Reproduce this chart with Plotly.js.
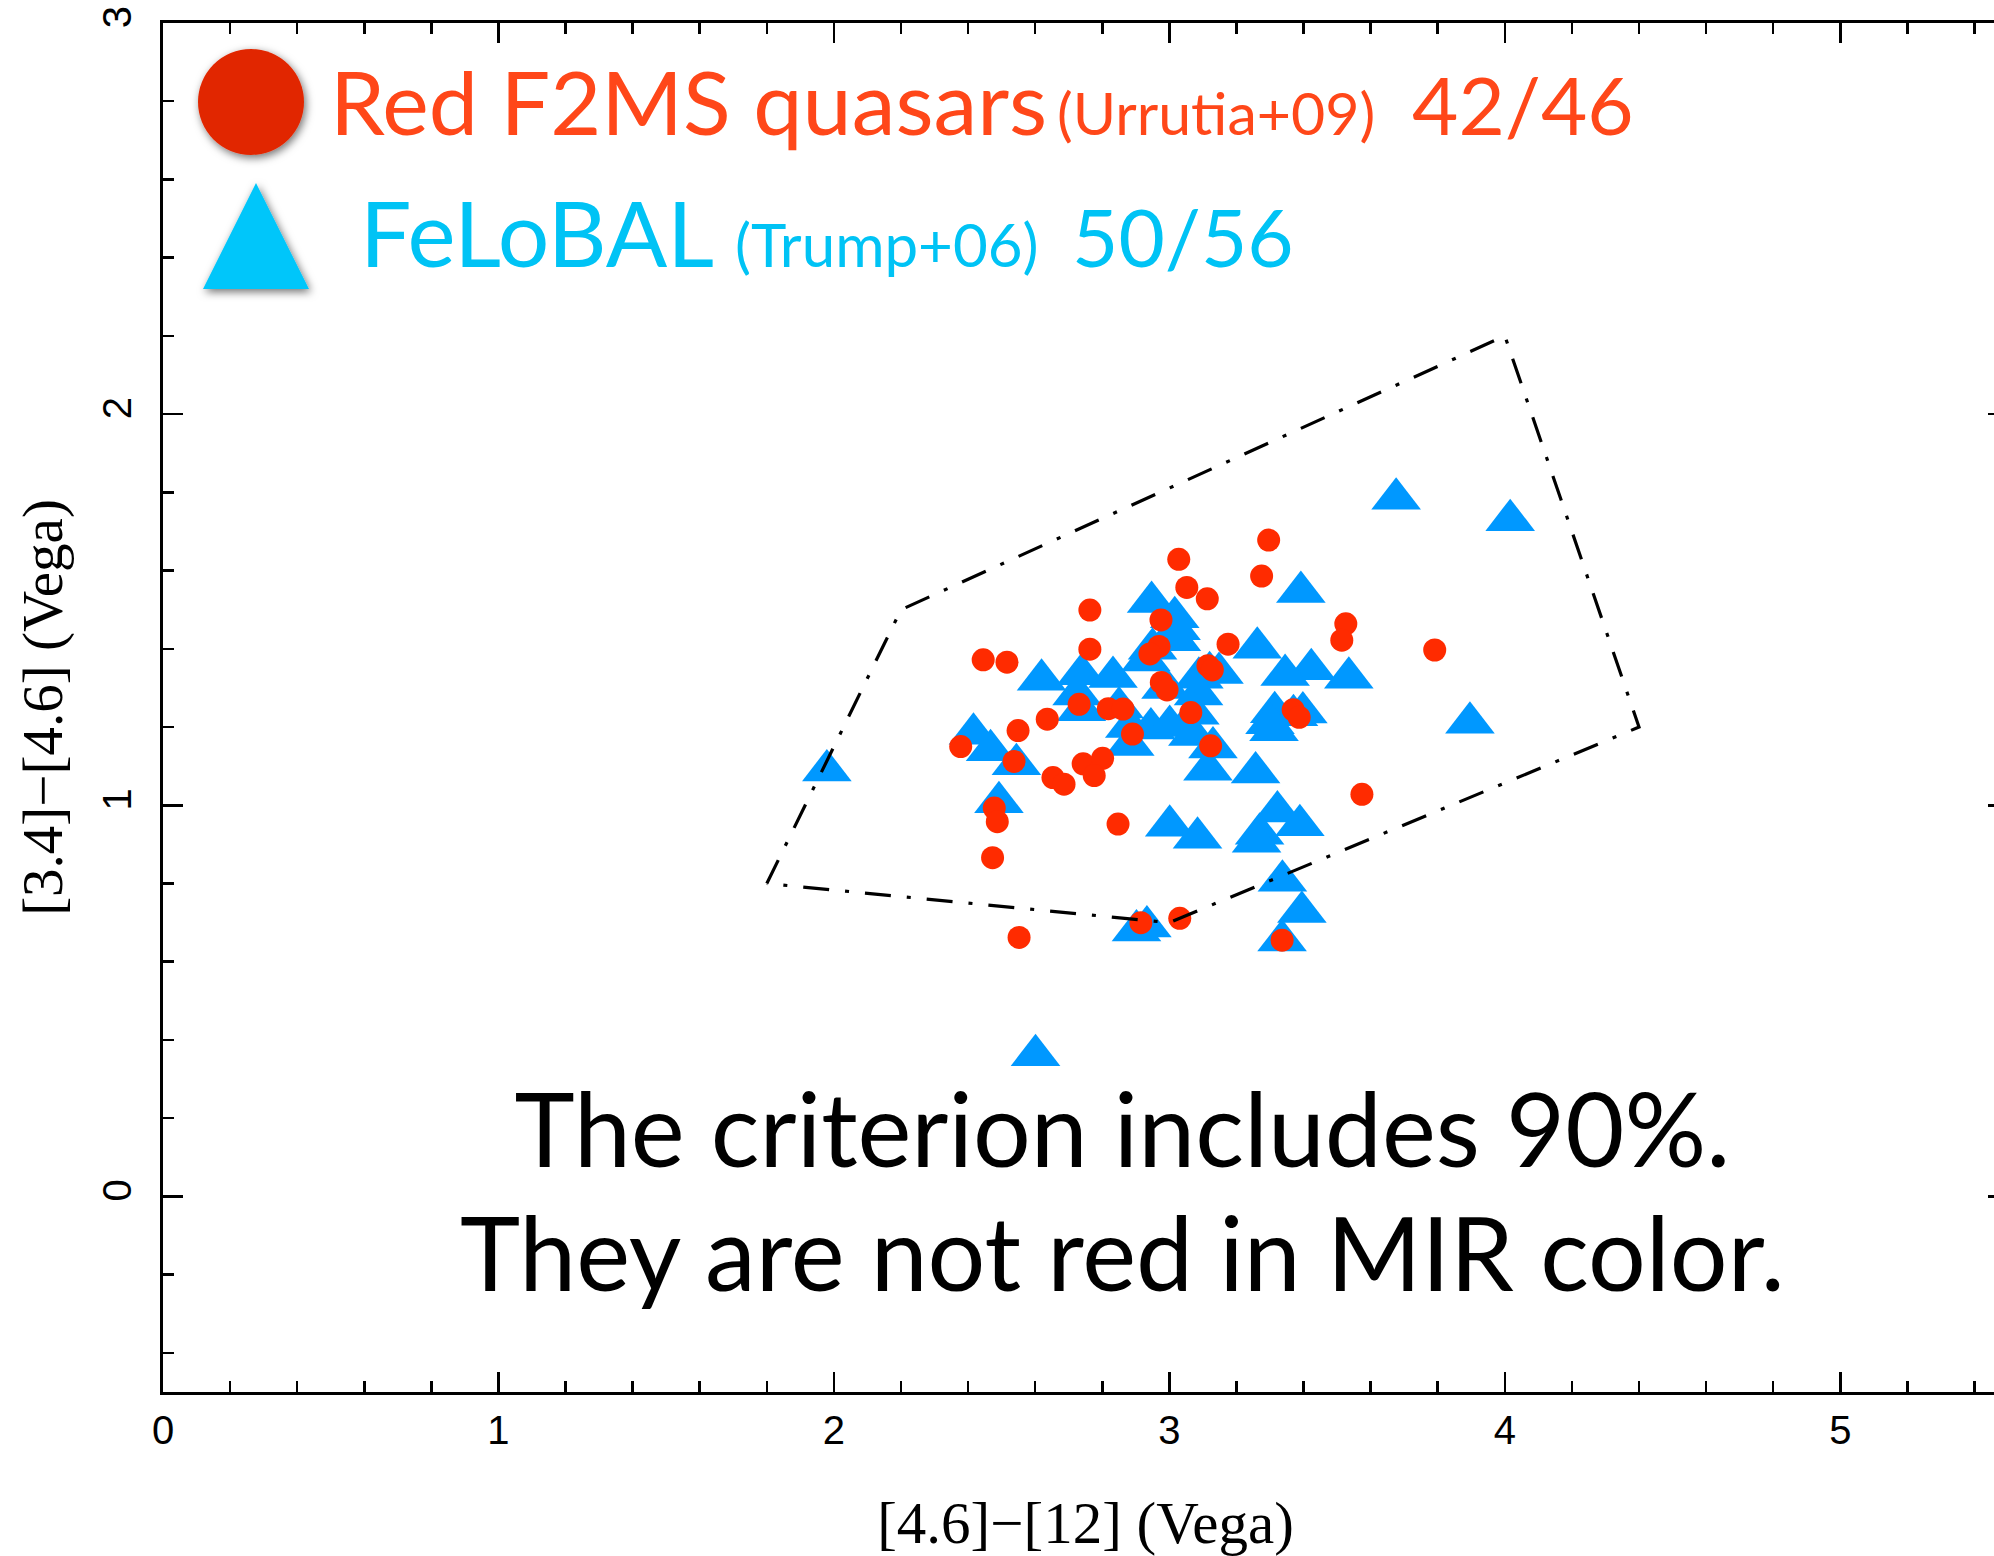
<!DOCTYPE html>
<html>
<head>
<meta charset="utf-8">
<script src="https://cdn.plot.ly/plotly-3.0.1.min.js"></script>
<style>
  html, body { margin: 0; padding: 0; overflow: hidden; background: #fff; }
</style>
</head>
<body>
<div id="chart"></div>
<script>
// Red F2MS quasars (Urrutia+09): WISE colours [4.6]-[12] and [3.4]-[4.6] (Vega)
const redX = [3.296, 3.028, 3.275, 3.052, 3.113, 2.763, 2.975, 3.526, 3.514, 3.175,
              3.791, 2.969, 2.942, 2.763, 2.445, 2.516, 3.115, 3.128, 2.976, 2.993,
              2.731, 2.818, 2.862, 3.064, 3.369, 3.387, 2.636, 2.549, 2.890, 2.378,
              3.123, 2.537, 2.743, 2.801, 2.776, 2.653, 2.686, 3.574, 2.478, 2.487,
              2.847, 2.473, 2.915, 3.031, 2.552, 3.336];
const redY = [1.678, 1.629, 1.586, 1.557, 1.528, 1.499, 1.474, 1.464, 1.422, 1.412,
              1.397, 1.406, 1.387, 1.399, 1.372, 1.366, 1.357, 1.346, 1.314, 1.295,
              1.258, 1.247, 1.246, 1.237, 1.244, 1.225, 1.220, 1.191, 1.182, 1.150,
              1.152, 1.112, 1.106, 1.120, 1.076, 1.071, 1.054, 1.028, 0.993, 0.958,
              0.952, 0.866, 0.700, 0.711, 0.662, 0.655];

// FeLoBAL quasars (Trump+06)
const felobalX = [1.979, 2.601, 3.676, 4.016, 3.896, 3.392, 2.947, 3.016, 3.021, 2.930,
                  3.262, 3.423, 3.345, 3.535, 3.148, 3.088, 3.087, 2.945, 3.001, 3.076,
                  3.130, 3.115, 3.314, 3.398, 3.312, 3.257, 2.619, 2.738, 2.832, 2.725,
                  2.738, 2.882, 2.882, 2.416, 2.467, 2.544, 2.492, 3.001, 3.084, 3.322,
                  3.389, 3.269, 3.260, 3.337, 3.395, 3.336, 2.902, 2.933, 3.020, 2.950,
                  3.120, 2.990, 3.370, 3.300, 2.850, 3.070];
const felobalY = [1.089, 0.361, 1.784, 1.729, 1.211, 1.545, 1.520, 1.481, 1.422, 1.370,
                  1.403, 1.348, 1.333, 1.326, 1.338, 1.326, 1.283, 1.196, 1.203, 1.234,
                  1.148, 1.091, 1.238, 1.237, 1.192, 1.084, 1.321, 1.335, 1.328, 1.283,
                  1.243, 1.200, 1.154, 1.183, 1.141, 1.105, 1.008, 0.948, 0.917, 0.984,
                  0.949, 0.927, 0.907, 0.807, 0.727, 0.654, 0.680, 0.690, 1.450, 1.400,
                  1.340, 1.300, 1.230, 1.210, 1.250, 1.180];

// Colour-selection wedge (closed polygon)
const wedgeX = [1.8, 2.2, 4.0, 4.4, 3.0, 1.8];
const wedgeY = [0.8, 1.5, 2.2, 1.2, 0.7, 0.8];

// Axis ticks
const xTickVals = [0, 1, 2, 3, 4, 5];
const yTickVals = [0, 1, 2, 3];

// Key and caption text
const redLabel = 'Red F2MS quasars';
const redRef = '(Urrutia+09)';
const redCount = '42/46';
const blueLabel = 'FeLoBAL';
const blueRef = '(Trump+06)';
const blueCount = '50/56';
const captionLines = ['The criterion includes 90%.', 'They are not red in MIR color.'];

const W = 2012, H = 1556;
const M = { l: 163, r: 4, t: 23, b: 164 };
const plotW = W - M.l - M.r;
const plotH = H - M.t - M.b;
// pixel position -> paper fraction
const px = v => (v - M.l) / plotW;
const py = v => (H - M.b - v) / plotH;

const RED_TEXT = '#FF4719';
const BLUE_TEXT = '#00C3F5';
const SANS = 'Lato, "Open Sans", sans-serif';
const SERIF = '"Liberation Serif", "DejaVu Serif", serif';

const CAPTION_SIZE = 102;
const CAPTION_GAP = 124;   // baseline-to-baseline distance of the caption, px

const traces = [
  {
    type: 'scatter', mode: 'markers', name: 'FeLoBAL',
    x: felobalX, y: felobalY,
    marker: { symbol: 'triangle-up', size: 43, color: '#0098FF', line: { width: 0 } },
    hoverinfo: 'x+y'
  },
  {
    type: 'scatter', mode: 'markers', name: 'Red F2MS',
    x: redX, y: redY,
    marker: { symbol: 'circle', size: 23, color: '#FF2B00', line: { width: 0 } },
    hoverinfo: 'x+y'
  },
  {
    type: 'scatter', mode: 'lines', name: 'criterion',
    x: wedgeX, y: wedgeY,
    line: { color: '#000', width: 3.2, dash: '26px,16px,4px,16px' },
    hoverinfo: 'skip'
  }
];

// text placed by its left (or centre) x and its first baseline y, in pixels
function label(text, xPix, baseline, size, color, anchor, nLines) {
  const extra = ((nLines || 1) - 1) * 0.65 * size;
  return {
    xref: 'paper', yref: 'paper', x: px(xPix), y: py(baseline - 0.387 * size + extra),
    xanchor: anchor || 'left', yanchor: 'middle', showarrow: false,
    text: text, font: { family: SANS, size: size, color: color }
  };
}

const axisCommon = {
  ticks: 'inside', ticklen: 20, tickwidth: 2.5, tickcolor: '#000',
  showline: true, linewidth: 3, linecolor: '#000', mirror: 'allticks',
  showgrid: false, zeroline: false, automargin: false,
  tickmode: 'array',
  tickfont: { family: '"Liberation Sans", Arial, sans-serif', size: 40, color: '#000' },
  minor: { dtick: 0.2, tick0: 0, ticks: 'inside', ticklen: 11, tickwidth: 2.5, tickcolor: '#000', showgrid: false }
};

const layout = {
  width: W, height: H,
  margin: M,
  paper_bgcolor: '#fff', plot_bgcolor: '#fff',
  showlegend: false,
  xaxis: Object.assign({}, axisCommon, {
    range: [0, 5.5], tickvals: xTickVals, ticktext: xTickVals.map(String),
    ticklabelstandoff: 1,
    title: { text: '[4.6]\u2212[12] (Vega)', standoff: 58,
             font: { family: SERIF, size: 59, color: '#000' } }
  }),
  yaxis: Object.assign({}, axisCommon, {
    range: [-0.5, 3], tickvals: yTickVals, ticktext: yTickVals.map(String),
    tickangle: -90, ticklabelstandoff: 13,
    title: { text: '[3.4]\u2212[4.6] (Vega)', standoff: 15,
             font: { family: SERIF, size: 57, color: '#000' } }
  }),
  shapes: [
    { type: 'circle', xref: 'paper', yref: 'paper', layer: 'above',
      x0: px(198), x1: px(304), y0: py(155), y1: py(49),
      fillcolor: '#E12800', line: { width: 0 } },
    { type: 'path', xref: 'paper', yref: 'paper', layer: 'above',
      path: `M ${px(203)},${py(289)} L ${px(309)},${py(289)} L ${px(256)},${py(183)} Z`,
      fillcolor: '#00C6FA', line: { width: 0 } }
  ],
  annotations: [
    label(redLabel, 328, 135, 88, RED_TEXT),
    label(redRef, 1055, 135, 59, RED_TEXT),
    label(redCount, 1410, 135, 80, RED_TEXT),
    label(blueLabel, 358, 267, 91, BLUE_TEXT),
    label(blueRef, 733, 267, 60, BLUE_TEXT),
    label(blueCount, 1070, 267, 80, BLUE_TEXT),
    label(captionLines.join('<br>'), 1122, 1167, CAPTION_SIZE, '#000', 'center', 2)
  ]
};

Plotly.newPlot('chart', traces, layout, { staticPlot: true, displayModeBar: false }).then(gd => {
  const svg = gd.querySelector('svg.main-svg');
  const ns = 'http://www.w3.org/2000/svg';

  // tighter line spacing for the two-line caption
  gd.querySelectorAll('.annotation-text').forEach(t => {
    const lines = t.querySelectorAll('tspan.line');
    if (lines.length === 2) lines[1].setAttribute('dy', (CAPTION_GAP / CAPTION_SIZE) + 'em');
  });

  // soft drop shadow under the two key symbols
  let defs = svg.querySelector('defs');
  if (!defs) { defs = document.createElementNS(ns, 'defs'); svg.insertBefore(defs, svg.firstChild); }
  const f = document.createElementNS(ns, 'filter');
  f.setAttribute('id', 'keyShadow');
  f.setAttribute('x', '-30%'); f.setAttribute('y', '-30%');
  f.setAttribute('width', '160%'); f.setAttribute('height', '160%');
  const ds = document.createElementNS(ns, 'feDropShadow');
  ds.setAttribute('dx', '2'); ds.setAttribute('dy', '3');
  ds.setAttribute('stdDeviation', '4');
  ds.setAttribute('flood-color', '#000'); ds.setAttribute('flood-opacity', '0.55');
  f.appendChild(ds);
  defs.appendChild(f);
  gd.querySelectorAll('.shapelayer path').forEach(p => p.setAttribute('filter', 'url(#keyShadow)'));
});
</script>
</body>
</html>
